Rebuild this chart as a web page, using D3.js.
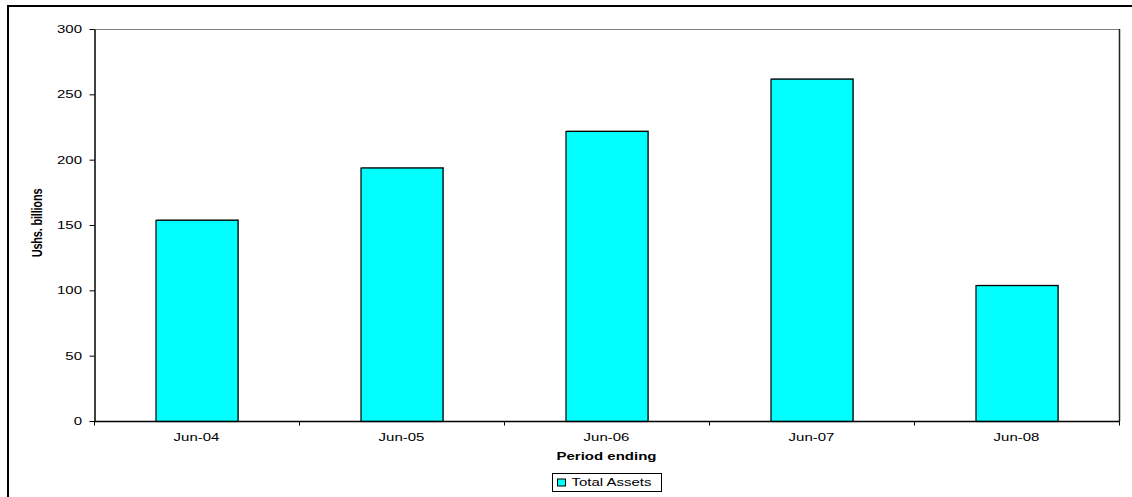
<!DOCTYPE html>
<html>
<head>
<meta charset="utf-8">
<script src="https://cdn.jsdelivr.net/npm/d3@7"></script>
<style>
  html, body { margin: 0; padding: 0; background: #fff; }
  svg { display: block; font-family: "Liberation Sans", Arial, sans-serif; }
</style>
</head>
<body>
<svg id="chart" width="1132" height="497"></svg>
<script>
// Total assets per financial year (Ushs. billions)
const categories = ["Jun-04", "Jun-05", "Jun-06", "Jun-07", "Jun-08"];
const totalAssets = [154, 194, 222, 262, 104];
const yTicks = [0, 50, 100, 150, 200, 250, 300];
const seriesName = "Total Assets";

const svg = d3.select("#chart");
const W = 1132, H = 497;
const plot = { left: 94, top: 29, right: 1119, bottom: 421 };
const STRETCH = 1.5;   // the chart's lettering is drawn wide

// Outer chart frame (runs past the right and bottom edges)
svg.append("rect")
  .attr("x", 8).attr("y", 6)
  .attr("width", W + 10).attr("height", H + 10)
  .attr("fill", "#fff").attr("stroke", "#000").attr("stroke-width", 2);

const x = d3.scaleBand()
  .domain(categories)
  .range([plot.left, plot.right])
  .paddingInner(0.6).paddingOuter(0.3);

const xEdge = d3.scaleLinear()
  .domain([0, categories.length])
  .range([plot.left, plot.right]);

const y = d3.scaleLinear()
  .domain([0, 300])
  .range([plot.bottom, plot.top]);

// Plot area border: top gray, right dark
svg.append("line")
  .attr("x1", plot.left).attr("x2", plot.right)
  .attr("y1", plot.top + 0.5).attr("y2", plot.top + 0.5)
  .attr("stroke", "#808080").attr("stroke-width", 1);
svg.append("line")
  .attr("x1", plot.right + 0.5).attr("x2", plot.right + 0.5)
  .attr("y1", plot.top).attr("y2", plot.bottom)
  .attr("stroke", "#222").attr("stroke-width", 1.5);

// Bars with a faint drop shadow
const bars = svg.append("g");
bars.selectAll("rect.shadow")
  .data(totalAssets)
  .join("rect")
  .attr("class", "shadow")
  .attr("x", (d, i) => x(categories[i]) + 1.5)
  .attr("y", d => y(d) - 0.5)
  .attr("width", x.bandwidth())
  .attr("height", d => plot.bottom - y(d))
  .attr("fill", "#9a9a9a");
bars.selectAll("rect.bar")
  .data(totalAssets)
  .join("rect")
  .attr("class", "bar")
  .attr("x", (d, i) => x(categories[i]) + 0.5)
  .attr("y", d => y(d) + 0.5)
  .attr("width", x.bandwidth())
  .attr("height", d => plot.bottom - y(d))
  .attr("fill", "#00ffff")
  .attr("stroke", "#000").attr("stroke-width", 1.2);

// Y axis
const yAxis = svg.append("g")
  .attr("transform", `translate(${plot.left + 0.5},0)`)
  .call(d3.axisLeft(y).tickValues(yTicks).tickSize(5).tickSizeOuter(0));
yAxis.select(".domain").attr("stroke", "#000").attr("stroke-width", 1.5);
yAxis.selectAll(".tick line").attr("stroke", "#000");
yAxis.selectAll(".tick text")
  .attr("x", 0).attr("dy", null).attr("y", 3.6)
  .attr("transform", `translate(-12.5,0) scale(${STRETCH},1)`)
  .attr("font-size", 10).attr("fill", "#000")
  .attr("font-family", "Liberation Sans, Arial, sans-serif");

// X axis: ticks fall on the category boundaries
const xAxis = svg.append("g")
  .attr("transform", `translate(0,${plot.bottom + 0.5})`);
xAxis.append("line")
  .attr("x1", plot.left).attr("x2", plot.right + 1)
  .attr("stroke", "#000").attr("stroke-width", 1.5);
xAxis.selectAll("line.tick")
  .data(d3.range(categories.length + 1))
  .join("line")
  .attr("class", "tick")
  .attr("x1", d => xEdge(d) + 0.5).attr("x2", d => xEdge(d) + 0.5)
  .attr("y1", 0).attr("y2", 4)
  .attr("stroke", "#000");
xAxis.selectAll("text")
  .data(categories)
  .join("text")
  .attr("transform", d => `translate(${x(d) + x.bandwidth() / 2},19.5) scale(${STRETCH},1)`)
  .attr("text-anchor", "middle")
  .attr("font-size", 10)
  .attr("fill", "#000")
  .text(d => d);

// Axis titles
svg.append("text")
  .attr("transform", `translate(${(plot.left + plot.right) / 2},459.5) scale(${STRETCH},1)`)
  .attr("text-anchor", "middle")
  .attr("font-size", 10).attr("font-weight", "bold")
  .text("Period ending");

svg.append("text")
  .attr("transform", `translate(42,${(plot.top + plot.bottom) / 2 - 2}) scale(1.35,1) rotate(-90)`)
  .attr("text-anchor", "middle")
  .attr("font-size", 11).attr("font-weight", "bold")
  .attr("letter-spacing", -0.2)
  .text("Ushs. billions");

// Legend
const legend = svg.append("g").attr("transform", "translate(552.5,473.5)");
legend.append("rect")
  .attr("width", 109).attr("height", 18)
  .attr("fill", "#fff").attr("stroke", "#000").attr("stroke-width", 1);
legend.append("rect")
  .attr("x", 5).attr("y", 5.5)
  .attr("width", 8).attr("height", 7)
  .attr("fill", "#00ffff").attr("stroke", "#000").attr("stroke-width", 1);
legend.append("text")
  .attr("transform", `translate(19,12.5) scale(${STRETCH},1)`)
  .attr("font-size", 10)
  .text(seriesName);
</script>
</body>
</html>
